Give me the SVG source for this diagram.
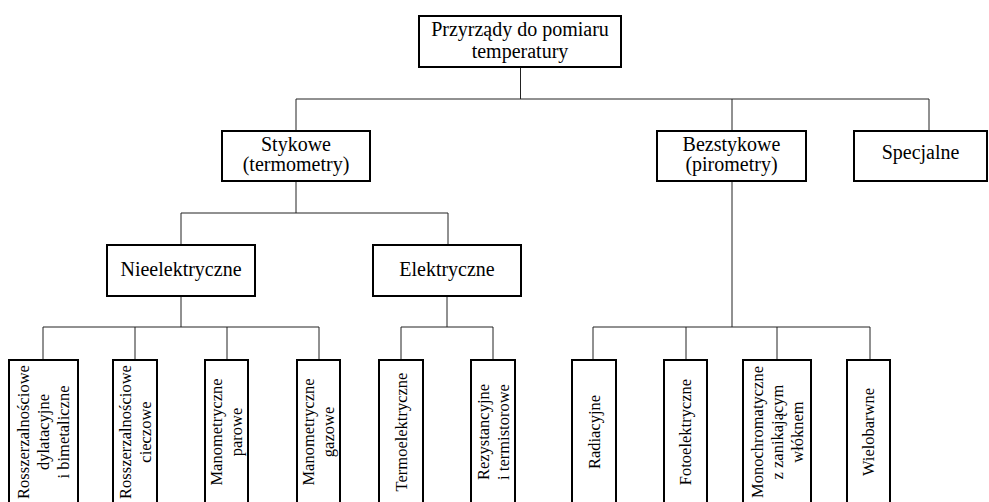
<svg xmlns="http://www.w3.org/2000/svg" width="989" height="502" viewBox="0 0 989 502">
<style>
.box{fill:#fff;stroke:#000;stroke-width:2}
.ln{fill:none;stroke:#222;stroke-width:1}
text{fill:#000;text-anchor:middle}
.h{font-size:20px}
.v{font-size:16.5px}
</style>
<rect width="989" height="502" fill="#fff"/>
<g id="connectors">
<path class="ln" d="M520.5 67V99M296 99H929M296 99V131M732 99V131M929 99V131"/>
<path class="ln" d="M296 181V213M181 213H448M181 213V245M448 213V245"/>
<path class="ln" d="M181 296V327M43 327H319M43 327V360M135 327V360M227 327V360M319 327V360"/>
<path class="ln" d="M447 296V327M401 327H493M401 327V360M493 327V360"/>
<path class="ln" d="M732 181V327M593 327H870M593 327V360M686 327V360M777 327V360M870 327V360"/>
</g>
<g font-family="'Liberation Serif', 'Times New Roman', 'DejaVu Serif', serif">
<g id="root"><rect class="box" x="419" y="16" width="202" height="51"/><text class="h" x="520" y="36">Przyrządy do pomiaru</text><text class="h" x="520" y="58">temperatury</text></g>
<g id="stykowe"><rect class="box" x="222" y="131" width="148" height="50"/><text class="h" x="296" y="151">Stykowe</text><text class="h" x="296" y="171">(termometry)</text></g>
<g id="bezstykowe"><rect class="box" x="657" y="131" width="149" height="50"/><text class="h" x="731.5" y="151">Bezstykowe</text><text class="h" x="731.5" y="171">(pirometry)</text></g>
<g id="specjalne"><rect class="box" x="854" y="131" width="133" height="50"/><text class="h" x="920.5" y="159">Specjalne</text></g>
<g id="nieelektryczne"><rect class="box" x="107" y="245" width="148" height="51"/><text class="h" x="181" y="276">Nieelektryczne</text></g>
<g id="elektryczne"><rect class="box" x="373" y="245" width="148" height="51"/><text class="h" x="447" y="276">Elektryczne</text></g>
<g id="n1"><rect class="box" x="9" y="360" width="69" height="146"/><text class="v" transform="translate(43.5 432) rotate(-90)"><tspan x="0" y="-14.5">Rosszerzalnościowe</tspan><tspan x="0" y="5.5">dylatacyjne</tspan><tspan x="0" y="25.5">i bimetaliczne</tspan></text></g>
<g id="n2"><rect class="box" x="113" y="360" width="44" height="146"/><text class="v" transform="translate(135 432) rotate(-90)"><tspan x="0" y="-4.5">Rosszerzalnościowe</tspan><tspan x="0" y="15.5">cieczowe</tspan></text></g>
<g id="n3"><rect class="box" x="205" y="360" width="43" height="146"/><text class="v" transform="translate(226.5 432) rotate(-90)"><tspan x="0" y="-4.5">Manometryczne</tspan><tspan x="0" y="15.5">parowe</tspan></text></g>
<g id="n4"><rect class="box" x="297" y="360" width="43" height="146"/><text class="v" transform="translate(318.5 432) rotate(-90)"><tspan x="0" y="-4.5">Manometryczne</tspan><tspan x="0" y="15.5">gazowe</tspan></text></g>
<g id="n5"><rect class="box" x="379" y="360" width="44" height="146"/><text class="v" transform="translate(401 432) rotate(-90)"><tspan x="0" y="5.5">Termoelektryczne</tspan></text></g>
<g id="n6"><rect class="box" x="471" y="360" width="44" height="146"/><text class="v" transform="translate(493 432) rotate(-90)"><tspan x="0" y="-4.5">Rezystancyjne</tspan><tspan x="0" y="15.5">i termistorowe</tspan></text></g>
<g id="n7"><rect class="box" x="572" y="360" width="44" height="146"/><text class="v" transform="translate(594 432) rotate(-90)"><tspan x="0" y="5.5">Radiacyjne</tspan></text></g>
<g id="n8"><rect class="box" x="664" y="360" width="43" height="146"/><text class="v" transform="translate(685.5 432) rotate(-90)"><tspan x="0" y="5.5">Fotoelektryczne</tspan></text></g>
<g id="n9"><rect class="box" x="743" y="360" width="68" height="146"/><text class="v" transform="translate(777 432) rotate(-90)"><tspan x="0" y="-14.5">Monochromatyczne</tspan><tspan x="0" y="5.5">z zanikającym</tspan><tspan x="0" y="25.5">włóknem</tspan></text></g>
<g id="n10"><rect class="box" x="847" y="360" width="43" height="146"/><text class="v" transform="translate(868.5 432) rotate(-90)"><tspan x="0" y="5.5">Wielobarwne</tspan></text></g>
</g>
</svg>
